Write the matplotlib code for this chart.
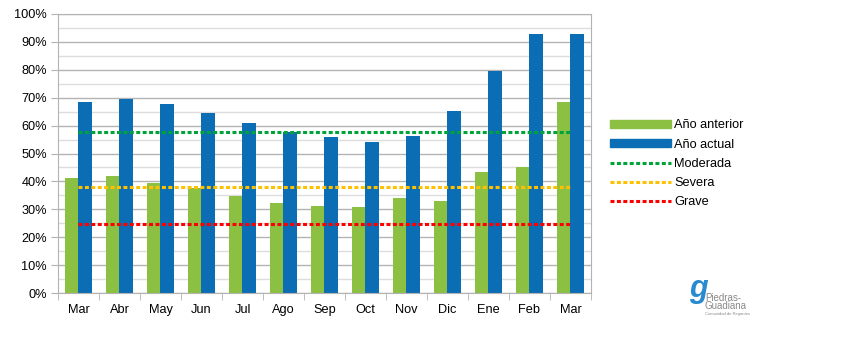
import numpy as np
import matplotlib.pyplot as plt
from matplotlib.lines import Line2D
from matplotlib.patches import Patch
from matplotlib.ticker import MultipleLocator, PercentFormatter

plt.rcParams['font.family'] = ['Liberation Sans', 'DejaVu Sans']

# monthly reservoir fill (%)
months = ['Mar', 'Abr', 'May', 'Jun', 'Jul', 'Ago', 'Sep', 'Oct', 'Nov', 'Dic', 'Ene', 'Feb', 'Mar']
prev_year = [41.2, 42.0, 39.4, 37.5, 34.8, 32.3, 31.2, 30.8, 34.1, 33.0, 43.4, 45.2, 68.6]
this_year = [68.6, 69.7, 67.9, 64.6, 61.0, 57.8, 56.0, 54.2, 56.4, 65.3, 79.4, 92.7, 92.7]

# drought thresholds (%)
thresholds = {'Moderada': 57.7, 'Severa': 37.9, 'Grave': 24.7}
thr_colors = {'Moderada': '#00a33a', 'Severa': '#ffc000', 'Grave': '#ff0000'}

green = '#8cc043'
blue = '#0b6db3'
grid_c = '#b3b3b3'
fs = 9.2

fig = plt.figure(figsize=(8.45, 3.53), dpi=100)
ax = fig.add_axes([58 / 845, 60 / 353, 533 / 845, 279 / 353])

x = np.arange(len(months))
w = 0.33
ax.bar(x - w / 2, prev_year, w, color=green, zorder=2)
ax.bar(x + w / 2, this_year, w, color=blue, zorder=2)

for name, val in thresholds.items():
    ax.plot([0, len(months) - 1], [val, val], color=thr_colors[name], lw=2.2,
            dashes=(1.3, 0.8), zorder=3)

ax.set_xlim(-0.5, len(months) - 0.5)
ax.set_ylim(0, 100)
ax.yaxis.set_major_locator(MultipleLocator(10))
ax.yaxis.set_minor_locator(MultipleLocator(5))
ax.yaxis.set_major_formatter(PercentFormatter(decimals=0))
ax.grid(axis='y', which='major', color=grid_c, lw=1, zorder=0)
ax.grid(axis='y', which='minor', color='#dddddd', lw=1, zorder=0)

ax.set_xticks(x)
ax.set_xticklabels(months)
ax.set_xticks(np.arange(len(months) + 1) - 0.5, minor=True)
ax.tick_params(axis='x', which='major', length=0, pad=8, labelsize=fs)
ax.tick_params(axis='x', which='minor', length=5, color=grid_c)
ax.tick_params(axis='y', which='major', length=5, color=grid_c, labelsize=fs, pad=3)
ax.tick_params(axis='y', which='minor', length=0)
for s in ax.spines.values():
    s.set_color(grid_c)

handles = [Patch(color=green, label='Año anterior'),
           Patch(color=blue, label='Año actual')]
for name in thresholds:
    handles.append(Line2D([], [], color=thr_colors[name], lw=2.2, dashes=(1.3, 0.8), label=name))
fig.legend(handles=handles, loc='upper left', bbox_to_anchor=(599 / 845, 1 - 108 / 353),
           frameon=False, fontsize=fs, handlelength=4.7, handleheight=0.6,
           handletextpad=0.3, labelspacing=0.56)

# logo
fig.text(698 / 845, 1 - 289 / 353, 'g', color='#2a8ad0', fontsize=22, style='italic',
         ha='center', va='center', fontweight='bold')
fig.text(705 / 845, 1 - 302 / 353, 'Piedras-\nGuadiana', color='#8a8a8a', fontsize=7,
         ha='left', va='center', linespacing=0.8)
fig.text(705 / 845, 1 - 314 / 353, 'Comunidad de Regantes', color='#8a8a8a', fontsize=3,
         ha='left', va='center')

fig.savefig('out.png', dpi=100)
